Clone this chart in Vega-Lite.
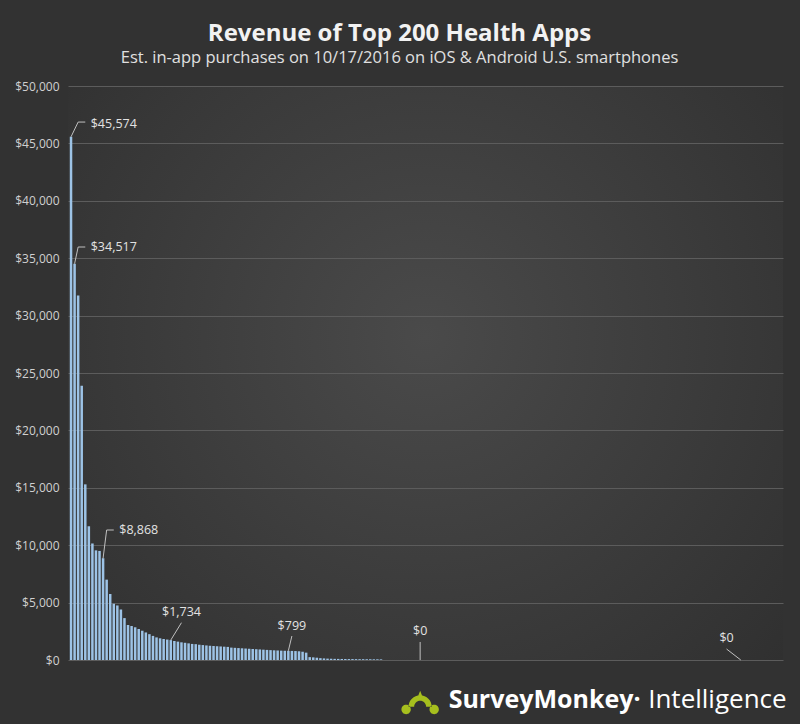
{
  "$schema": "https://vega.github.io/schema/vega-lite/v6.json",
  "autosize": "none",
  "width": 715,
  "height": 574,
  "padding": {"left": 68, "top": 86, "right": 17, "bottom": 64},
  "background": "#323232",
  "title": {
    "text": "Revenue of Top 200 Health Apps",
    "subtitle": "Est. in-app purchases on 10/17/2016 on iOS & Android U.S. smartphones",
    "font": "Open Sans",
    "fontSize": 24,
    "fontWeight": "bold",
    "color": "#f2f2f2",
    "subtitleFont": "Open Sans",
    "subtitleFontSize": 16.5,
    "subtitleColor": "#e0e0e0",
    "subtitlePadding": 4,
    "anchor": "middle",
    "frame": "group",
    "dx": -26,
    "offset": 14
  },
  "config": {
    "view": {
      "stroke": null,
      "fill": {
        "gradient": "radial",
        "x1": 0.5, "y1": 0.45, "x2": 0.5, "y2": 0.45, "r1": 0, "r2": 0.75,
        "stops": [
          {"offset": 0, "color": "#4a4a4a"},
          {"offset": 1, "color": "#2d2d2d"}
        ]
      }
    }
  },
  "datasets": {
    "apps": [
      {"i":1,"v":45574},{"i":2,"v":34517},{"i":3,"v":31750},{"i":4,"v":23900},{"i":5,"v":15300},
      {"i":6,"v":11650},{"i":7,"v":10150},{"i":8,"v":9550},{"i":9,"v":9500},{"i":10,"v":8868},
      {"i":11,"v":7000},{"i":12,"v":5750},{"i":13,"v":4900},{"i":14,"v":4750},{"i":15,"v":4400},
      {"i":16,"v":3650},{"i":17,"v":3050},{"i":18,"v":2960},{"i":19,"v":2850},{"i":20,"v":2700},
      {"i":21,"v":2550},{"i":22,"v":2400},{"i":23,"v":2250},{"i":24,"v":2100},{"i":25,"v":1970},
      {"i":26,"v":1890},{"i":27,"v":1830},{"i":28,"v":1780},{"i":29,"v":1734},{"i":30,"v":1655},
      {"i":31,"v":1600},{"i":32,"v":1540},{"i":33,"v":1500},{"i":34,"v":1450},{"i":35,"v":1400},
      {"i":36,"v":1380},{"i":37,"v":1330},{"i":38,"v":1300},{"i":39,"v":1270},{"i":40,"v":1240},
      {"i":41,"v":1220},{"i":42,"v":1200},{"i":43,"v":1180},{"i":44,"v":1160},{"i":45,"v":1140},
      {"i":46,"v":1080},{"i":47,"v":1060},{"i":48,"v":1040},{"i":49,"v":1020},{"i":50,"v":1000},
      {"i":51,"v":980},{"i":52,"v":960},{"i":53,"v":940},{"i":54,"v":920},{"i":55,"v":900},
      {"i":56,"v":880},{"i":57,"v":860},{"i":58,"v":845},{"i":59,"v":830},{"i":60,"v":815},
      {"i":61,"v":805},{"i":62,"v":799},{"i":63,"v":790},{"i":64,"v":780},{"i":65,"v":760},
      {"i":66,"v":720},{"i":67,"v":640},{"i":68,"v":250},{"i":69,"v":230},{"i":70,"v":200},
      {"i":71,"v":160},{"i":72,"v":140},{"i":73,"v":120},{"i":74,"v":110},{"i":75,"v":100},
      {"i":76,"v":95},{"i":77,"v":90},{"i":78,"v":85},{"i":79,"v":80},{"i":80,"v":80},
      {"i":81,"v":75},{"i":82,"v":70},{"i":83,"v":70},{"i":84,"v":65},{"i":85,"v":65},
      {"i":86,"v":60},{"i":87,"v":60},{"i":88,"v":55},{"i":89,"v":0},{"i":90,"v":0},
      {"i":91,"v":0},{"i":92,"v":0},{"i":93,"v":0},{"i":94,"v":0},{"i":95,"v":0},
      {"i":96,"v":0},{"i":97,"v":0},{"i":98,"v":0},{"i":99,"v":0},{"i":100,"v":0},
      {"i":101,"v":0},{"i":102,"v":0},{"i":103,"v":0},{"i":104,"v":0},{"i":105,"v":0},
      {"i":106,"v":0},{"i":107,"v":0},{"i":108,"v":0},{"i":109,"v":0},{"i":110,"v":0},
      {"i":111,"v":0},{"i":112,"v":0},{"i":113,"v":0},{"i":114,"v":0},{"i":115,"v":0},
      {"i":116,"v":0},{"i":117,"v":0},{"i":118,"v":0},{"i":119,"v":0},{"i":120,"v":0},
      {"i":121,"v":0},{"i":122,"v":0},{"i":123,"v":0},{"i":124,"v":0},{"i":125,"v":0},
      {"i":126,"v":0},{"i":127,"v":0},{"i":128,"v":0},{"i":129,"v":0},{"i":130,"v":0},
      {"i":131,"v":0},{"i":132,"v":0},{"i":133,"v":0},{"i":134,"v":0},{"i":135,"v":0},
      {"i":136,"v":0},{"i":137,"v":0},{"i":138,"v":0},{"i":139,"v":0},{"i":140,"v":0},
      {"i":141,"v":0},{"i":142,"v":0},{"i":143,"v":0},{"i":144,"v":0},{"i":145,"v":0},
      {"i":146,"v":0},{"i":147,"v":0},{"i":148,"v":0},{"i":149,"v":0},{"i":150,"v":0},
      {"i":151,"v":0},{"i":152,"v":0},{"i":153,"v":0},{"i":154,"v":0},{"i":155,"v":0},
      {"i":156,"v":0},{"i":157,"v":0},{"i":158,"v":0},{"i":159,"v":0},{"i":160,"v":0},
      {"i":161,"v":0},{"i":162,"v":0},{"i":163,"v":0},{"i":164,"v":0},{"i":165,"v":0},
      {"i":166,"v":0},{"i":167,"v":0},{"i":168,"v":0},{"i":169,"v":0},{"i":170,"v":0},
      {"i":171,"v":0},{"i":172,"v":0},{"i":173,"v":0},{"i":174,"v":0},{"i":175,"v":0},
      {"i":176,"v":0},{"i":177,"v":0},{"i":178,"v":0},{"i":179,"v":0},{"i":180,"v":0},
      {"i":181,"v":0},{"i":182,"v":0},{"i":183,"v":0},{"i":184,"v":0},{"i":185,"v":0},
      {"i":186,"v":0},{"i":187,"v":0},{"i":188,"v":0},{"i":189,"v":0},{"i":190,"v":0},
      {"i":191,"v":0},{"i":192,"v":0},{"i":193,"v":0},{"i":194,"v":0},{"i":195,"v":0},
      {"i":196,"v":0},{"i":197,"v":0},{"i":198,"v":0},{"i":199,"v":0},{"i":200,"v":0}
    ],
    "leaders": [
      {"g":1,"o":1,"i":1,"v":45574},{"g":1,"o":2,"i":3,"v":46860},{"g":1,"o":3,"i":5,"v":46860},
      {"g":2,"o":1,"i":2,"v":34517},{"g":2,"o":2,"i":3,"v":35975},{"g":2,"o":3,"i":5,"v":35975},
      {"g":3,"o":1,"i":10,"v":8868},{"g":3,"o":2,"i":11,"v":11324},{"g":3,"o":3,"i":13,"v":11324},
      {"g":4,"o":1,"i":29,"v":1734},{"g":4,"o":2,"i":32,"v":3250},
      {"g":5,"o":1,"i":62,"v":799},{"g":5,"o":2,"i":63,"v":2090},
      {"g":6,"o":1,"i":99,"v":0},{"g":6,"o":2,"i":99,"v":1570},
      {"g":7,"o":1,"i":189,"v":0},{"g":7,"o":2,"i":185,"v":958}
    ],
    "labels": [
      {"i":13,"v":46690,"t":"$45,574"},
      {"i":13,"v":35976,"t":"$34,517"},
      {"i":20,"v":11324,"t":"$8,868"},
      {"i":32,"v":4200,"t":"$1,734"},
      {"i":63,"v":2962,"t":"$799"},
      {"i":99,"v":2526,"t":"$0"},
      {"i":185,"v":1916,"t":"$0"}
    ]
  },
  "layer": [
    {
      "data": {"name": "apps"},
      "mark": {"type": "bar", "color": "#9dc3e6"},
      "encoding": {
        "x": {
          "field": "i", "type": "ordinal",
          "scale": {"paddingInner": 0.3, "paddingOuter": 0.5},
          "axis": null
        },
        "y": {
          "field": "v", "type": "quantitative",
          "scale": {"domain": [0, 50000], "nice": false},
          "axis": {
            "title": null,
            "values": [0,5000,10000,15000,20000,25000,30000,35000,40000,45000,50000],
            "format": "$,.0f",
            "labelFont": "Open Sans",
            "labelFontSize": 12,
            "labelColor": "#d0d0d0",
            "labelPadding": 9,
            "ticks": false,
            "domain": false,
            "gridColor": "#5c5c5c",
            "gridWidth": 1
          }
        }
      }
    },
    {
      "data": {"name": "leaders"},
      "mark": {"type": "line", "color": "#c0c0c0", "strokeWidth": 1},
      "encoding": {
        "x": {"field": "i", "type": "ordinal"},
        "y": {"field": "v", "type": "quantitative"},
        "detail": {"field": "g"},
        "order": {"field": "o"}
      }
    },
    {
      "data": {"name": "labels"},
      "mark": {"type": "text", "font": "Open Sans", "fontSize": 12.5, "color": "#e2e2e2", "baseline": "middle", "align": "center"},
      "encoding": {
        "x": {"field": "i", "type": "ordinal"},
        "y": {"field": "v", "type": "quantitative"},
        "text": {"field": "t"}
      }
    },
    {
      "data": {"values": [{}]},
      "mark": {"type": "point", "filled": true, "color": "#a6bf1e", "opacity": 1, "size": 1400,
        "shape": "M-0.62,0.35 A0.62,0.62 0 0 1 0.62,0.35 L0.32,0.35 A0.32,0.32 0 0 0 -0.32,0.35 Z M-1,0.5 A0.25,0.25 0 1 0 -0.5,0.5 A0.25,0.25 0 1 0 -1,0.5 Z M0.5,0.5 A0.25,0.25 0 1 0 1,0.5 A0.25,0.25 0 1 0 0.5,0.5 Z M-0.1,-0.25 L0,-0.5 L0.1,-0.25 Z"},
      "encoding": {
        "x": {"datum": 99, "type": "ordinal"},
        "y": {"datum": -3500, "type": "quantitative"}
      }
    },
    {
      "data": {"values": [{}]},
      "mark": {"type": "text", "font": "Open Sans", "fontSize": 25, "fontWeight": "bold", "color": "#ffffff", "align": "left", "baseline": "alphabetic"},
      "encoding": {
        "x": {"datum": 107, "type": "ordinal"},
        "y": {"datum": -4200, "type": "quantitative"},
        "text": {"value": "SurveyMonkey·"}
      }
    },
    {
      "data": {"values": [{}]},
      "mark": {"type": "text", "font": "Open Sans", "fontSize": 26, "fontWeight": "normal", "color": "#ffffff", "align": "left", "baseline": "alphabetic"},
      "encoding": {
        "x": {"datum": 163, "type": "ordinal"},
        "y": {"datum": -4200, "type": "quantitative"},
        "text": {"value": "Intelligence"}
      }
    }
  ]
}
